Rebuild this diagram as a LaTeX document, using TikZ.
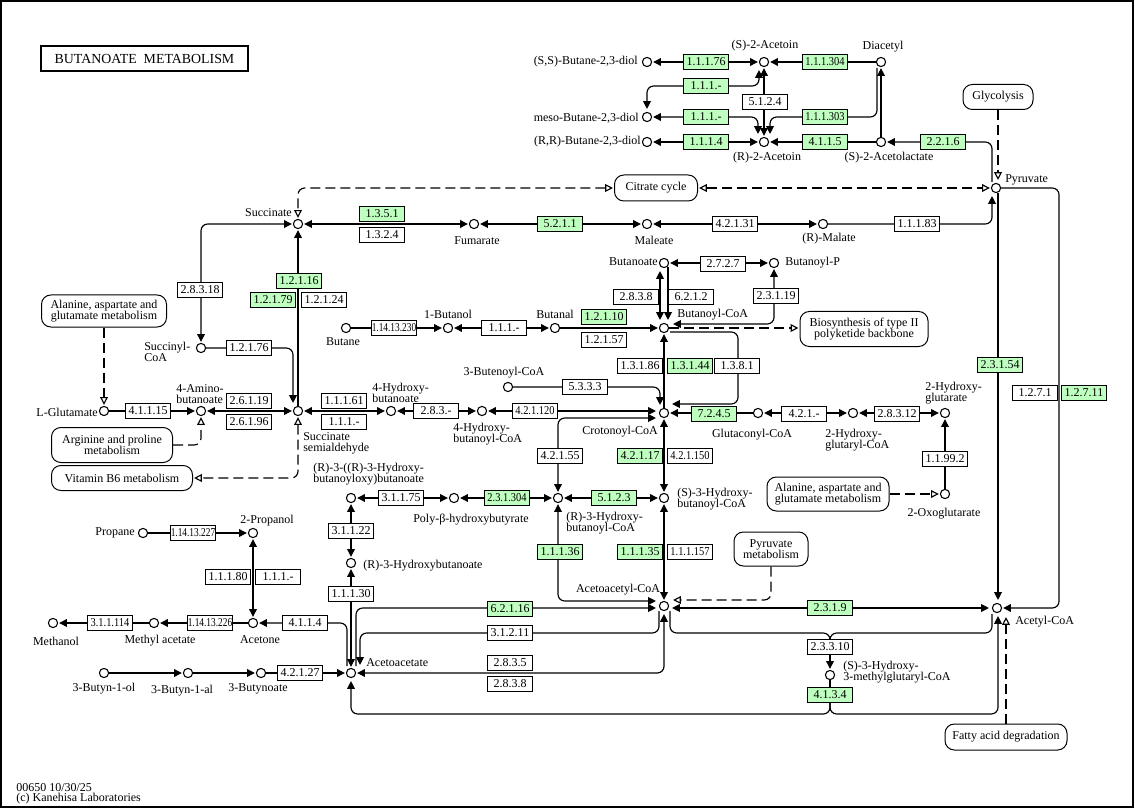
\documentclass[tikz,border=0pt]{standalone}
\usepackage{fontspec}
\usepackage{graphicx}
\setmainfont{Liberation Serif}
\usetikzlibrary{arrows.meta,calc}
\definecolor{kgreen}{HTML}{BFFFBF}
\newcommand{\sqA}[1]{\scalebox{0.87}[1]{#1}}
\newcommand{\sqB}[1]{\scalebox{0.78}[1]{#1}}
\begin{document}
\begin{tikzpicture}[x=0.75pt,y=-0.75pt,
  font=\fontsize{9}{8.4}\selectfont,
  cpd/.style={circle,draw,fill=white,minimum size=6.9pt,inner sep=0pt,line width=0.8pt},
  lab/.style={inner sep=0pt,align=left},
  labc/.style={inner sep=0pt,align=center},
  ec/.style={draw,fill=white,minimum width=33.75pt,minimum height=11.8pt,inner sep=0pt,line width=0.75pt},
  gec/.style={ec,fill=kgreen},
  mapb/.style 2 args={draw,fill=white,rounded corners=7pt,align=center,inner sep=0pt,minimum width=#1*0.75pt,minimum height=#2*0.75pt,line width=0.75pt},
  ln/.style={line width=0.85pt,rounded corners=5pt},
  ar/.style={ln,-{Triangle[length=5.8pt,width=5.8pt]},shorten >=0.8pt},
  bar/.style={ln,{Triangle[length=5.8pt,width=5.8pt]}-{Triangle[length=5.8pt,width=5.8pt]},shorten >=0.8pt,shorten <=0.8pt},
  dl/.style={ln,dash pattern=on 7.5pt off 3.75pt},
  dar/.style={dl,-{Triangle[open,length=5.8pt,width=5.8pt]},shorten >=0.8pt},
  dbar/.style={dl,{Triangle[open,length=5.8pt,width=5.8pt]}-{Triangle[open,length=5.8pt,width=5.8pt]},shorten >=0.8pt,shorten <=0.8pt}
]
\useasboundingbox (0,0) rectangle (1135,809);
\draw[line width=0.8pt] (1,1) rectangle (1133,807);
\node[draw,line width=1.6pt,minimum width=155pt,minimum height=18.5pt,inner sep=0pt,font=\fontsize{10.4}{12}\selectfont] (title) at (144.5,58.5) {BUTANOATE\ \ METABOLISM};

% compounds
\node[cpd] (ssdiol) at (647,62) {};
\node[cpd] (sacet) at (764,62) {};
\node[cpd] (diac) at (881,62) {};
\node[cpd] (mesodiol) at (647,117) {};
\node[cpd] (rrdiol) at (647,142) {};
\node[cpd] (racet) at (764,142) {};
\node[cpd] (aclac) at (881,142) {};
\node[cpd] (pyr) at (996,188) {};
\node[cpd] (succ) at (298,224) {};
\node[cpd] (fum) at (474,224) {};
\node[cpd] (mal) at (647,224) {};
\node[cpd] (rmal) at (823,224) {};
\node[cpd] (buta) at (664,263) {};
\node[cpd] (bup) at (774,263) {};
\node[cpd] (bucoa) at (664,328) {};
\node[cpd] (butanal) at (555,328) {};
\node[cpd] (butanol) at (448,328) {};
\node[cpd] (butane) at (346,328) {};
\node[cpd] (succoa) at (201,348) {};
\node[cpd] (glu) at (104,411) {};
\node[cpd] (gaba) at (201,411) {};
\node[cpd] (ssa) at (298,411) {};
\node[cpd] (hba) at (391,411) {};
\node[cpd] (hbcoa) at (482,411) {};
\node[cpd] (buten) at (508,387) {};
\node[cpd] (crot) at (664,413) {};
\node[cpd] (glut) at (758,413) {};
\node[cpd] (hgcoa) at (853,413) {};
\node[cpd] (hg) at (945,413) {};
\node[cpd] (oxo) at (945,494) {};
\node[cpd] (s3hb) at (664,498) {};
\node[cpd] (r3hb) at (558,498) {};
\node[cpd] (phb) at (454,498) {};
\node[cpd] (rrhb) at (351,498) {};
\node[cpd] (r3hba) at (351,563) {};
\node[cpd] (aacoa) at (664,606) {};
\node[cpd] (acoa) at (997,608) {};
\node[cpd] (aa) at (351,673) {};
\node[cpd] (hmg) at (830,675) {};
\node[cpd] (prop) at (253,533) {};
\node[cpd] (propane) at (143,533) {};
\node[cpd] (acetone) at (253,623) {};
\node[cpd] (meac) at (154,623) {};
\node[cpd] (meoh) at (53,623) {};
\node[cpd] (bol) at (104,673) {};
\node[cpd] (bal) at (188,673) {};
\node[cpd] (bnoate) at (261,673) {};

% map boxes
\node[mapb={70}{25}] (glyc) at (998,97) {Glycolysis};
\node[mapb={83}{26}] (cit) at (656,188) {Citrate cycle};
\node[mapb={128}{35}] (pk) at (864,329) {Biosynthesis of type II\\polyketide backbone};
\node[mapb={125}{32}] (ala1) at (104,311) {Alanine, aspartate and\\glutamate metabolism};
\node[mapb={121}{35}] (arg) at (112,445) {Arginine and proline\\metabolism};
\node[mapb={141}{25}] (vitb6) at (122,478) {Vitamin B6 metabolism};
\node[mapb={122}{34}] (ala2) at (828,494) {Alanine, aspartate and\\glutamate metabolism};
\node[mapb={74}{34}] (pm) at (771,549) {Pyruvate\\metabolism};
\node[mapb={122}{26}] (fad) at (1006,737) {Fatty acid degradation};

% connectors: top
\draw[bar] (ssdiol) -- (sacet);
\draw[ar] (diac) -- (sacet);
\draw[bar] ($(sacet)+(-5,7)$) |- ($(mesodiol)+(0,-31)$) -- ($(mesodiol)+(0,-7)$);
\draw[bar] (sacet) -- (racet);
\draw[bar] (mesodiol) -| ($(racet)+(-6,-7)$);
\draw[ar] ($(diac)+(-4,6)$) |- ($(racet)+(6,-25)$) -- ($(racet)+(6,-7)$);
\draw[bar] (rrdiol) -- (racet);
\draw[ar] (aclac) -- (racet);
\draw[ar] (aclac) -- (diac);
\draw[ar] ($(pyr)+(-4,-6)$) |- (aclac);
\draw[dar] (glyc.south) -- ($(pyr)+(2,-7)$);
\draw[dbar] (cit) -- (pyr);
\draw[dbar] (cit.west) -| (succ);
% succinate row
\draw[bar] (succ) -- (fum);
\draw[bar] (fum) -- (mal);
\draw[bar] (mal) -- (rmal);
\draw[ar] (rmal) -| ($(pyr)+(-4,7)$);
\draw[bar] (succoa) |- (succ);
\draw[ar] (ssa) -- (succ);
\draw[ar] (succoa) -| ($(ssa)+(-5,-7)$);
% glutamate row
\draw[ar] (glu) -- (gaba);
\draw[bar] (gaba) -- (ssa);
\draw[dar] (ala1.south) -- (glu);
\draw[dar] (arg.east) -| (gaba);
\draw[dbar] (ssa) |- (vitb6.east);
\draw[bar] (ssa) -- (hba);
\draw[bar] (hba) -- (hbcoa);
\draw[bar] (hbcoa) -- ($(crot)+(-7,-2)$);
% butanoyl-CoA area
\draw[ar] (buten) -| ($(crot)+(-4,-7)$);
\draw[ar] (crot) -- (bucoa);
\draw[ar] ($(bucoa)+(6,4)$) -| ($(crot)+(74,-9)$) -- ($(crot)+(7,-9)$);
\draw[dar] (bucoa) -- (bucoa -| pk.west);
\draw[bar] (bup) |- ($(bucoa)+(8,-4)$);
\draw[bar] (buta) -- (bup);
\draw[bar] ($(buta)+(-4,7)$) -- ($(bucoa)+(-4,-7)$);
\draw[ar] ($(buta)+(4,4)$) -- ($(bucoa)+(4,-7)$);
\draw[ar] (butanal) -- (bucoa);
\draw[bar] (butanol) -- (butanal);
\draw[ar] (butane) -- (butanol);
% glutaconyl row
\draw[ar] (glut) -- (crot);
\draw[bar] (hgcoa) -- (glut);
\draw[bar] (hgcoa) -- (hg);
\draw[ar] (oxo) -- (hg);
\draw[dar] (ala2.east) -- (oxo);
% hydroxybutanoyl
\draw[bar] (crot) -- (s3hb);
\draw[bar] (r3hb) |- ($(crot)+(-7,5)$);
\draw[bar] (r3hb) -- (s3hb);
\draw[bar] (phb) -- (r3hb);
\draw[bar] (rrhb) -- (phb);
\draw[bar] (rrhb) -- (r3hba);
\draw[bar] (r3hba) -- (aa);
\draw[bar] (r3hb) |- ($(aacoa)+(-7,-5)$);
\draw[bar] (s3hb) -- (aacoa);
\draw[dar] (pm.south) |- ($(aacoa)+(8,-6)$);
\draw[bar] ($(aacoa)+(7,2)$) -- ($(acoa)+(-7,0)$);
% acetoacetate
\draw[ar] ($(aa)+(5,-7)$) |- ($(aacoa)+(-7,2)$);
\draw[ar] ($(aacoa)+(-5,5)$) |- ($(aa)+(9,-40)$) -- ($(aa)+(9,-7)$);
\draw[bar] (aa) -| ($(aacoa)+(0,7)$);
\draw[ar] ($(aa)+(-4,-7)$) |- (acetone);
\draw[ar] (propane) -- (prop);
\draw[bar] (prop) -- (acetone);
\draw[ar] (acetone) -- (meac);
\draw[ar] (meac) -- (meoh);
\draw[ar] (bol) -- (bal);
\draw[ar] (bal) -- (bnoate);
\draw[ar] (bnoate) -- (aa);
% HMG-CoA
\draw[ln] ($(aacoa)+(6,5)$) |- ($(hmg)+(0,-42)$) -- ($(hmg)+(0,-36)$);
\draw[ln] ($(acoa)+(-5,6)$) |- ($(hmg)+(0,-42)$) -- ($(hmg)+(0,-36)$);
\draw[ar] ($(hmg)+(0,-36)$) -- (hmg);
\draw[ln] (hmg) -- ($(hmg)+(0,28)$);
\draw[ar] ($(hmg)+(0,28)$) |- ($(aa)+(0,41)$) -- ($(aa)+(0,7)$);
\draw[ar] ($(hmg)+(0,28)$) |- ($(acoa)+(1,106)$) -- ($(acoa)+(1,7)$);
\draw[dar] (fad.north) -- ($(acoa)+(9,8)$);
\draw[ar] ($(pyr)+(2,5)$) -- ($(acoa)+(1,-7)$);
\draw[ar] (pyr) -| ($(acoa)+(62,0)$) -- (acoa);

% enzymes
\node[gec] (e1) at (706,62) {1.1.1.76};
\node[gec] (e2) at (825,62) {\sqA{1.1.1.304}};
\node[gec] (e3) at (706,86) {1.1.1.-};
\node[ec] (e4) at (765,102) {5.1.2.4};
\node[gec] (e5) at (706,117) {1.1.1.-};
\node[gec] (e6) at (825,117) {\sqA{1.1.1.303}};
\node[gec] (e7) at (706,142) {1.1.1.4};
\node[gec] (e8) at (825,142) {4.1.1.5};
\node[gec] (e9) at (943,142) {2.2.1.6};
\node[gec] (e10) at (382,214) {1.3.5.1};
\node[ec] (e11) at (382,235) {1.3.2.4};
\node[gec] (e12) at (560,224) {5.2.1.1};
\node[ec] (e13) at (735,224) {4.2.1.31};
\node[ec] (e14) at (917,224) {1.1.1.83};
\node[ec] (e15) at (723,264) {2.7.2.7};
\node[ec] (e16) at (636,297) {2.8.3.8};
\node[ec] (e17) at (691,297) {6.2.1.2};
\node[ec] (e18) at (776,296) {2.3.1.19};
\node[ec] (e19) at (200,290) {2.8.3.18};
\node[gec] (e20) at (299,281) {1.2.1.16};
\node[gec] (e21) at (273,300) {1.2.1.79};
\node[ec] (e22) at (324,300) {1.2.1.24};
\node[ec] (e23) at (394,328) {\sqB{1.14.13.230}};
\node[ec] (e24) at (504,328) {1.1.1.-};
\node[gec] (e25) at (604,317) {1.2.1.10};
\node[ec] (e26) at (604,340) {1.2.1.57};
\node[ec] (e27) at (249,348) {1.2.1.76};
\node[ec] (e28) at (640,366) {1.3.1.86};
\node[gec] (e29) at (690,366) {1.3.1.44};
\node[ec] (e30) at (737,366) {1.3.8.1};
\node[gec] (e31) at (1000,365) {2.3.1.54};
\node[ec] (e32) at (1035,393) {1.2.7.1};
\node[gec] (e33) at (1084,393) {1.2.7.11};
\node[ec] (e34) at (148,411) {4.1.1.15};
\node[ec] (e35) at (249,401) {2.6.1.19};
\node[ec] (e36) at (249,422) {2.6.1.96};
\node[ec] (e37) at (344,401) {1.1.1.61};
\node[ec] (e38) at (344,422) {1.1.1.-};
\node[ec] (e39) at (436,411) {2.8.3.-};
\node[ec] (e40) at (535,411) {\sqA{4.2.1.120}};
\node[ec] (e41) at (585,387) {5.3.3.3};
\node[gec] (e42) at (714,414) {7.2.4.5};
\node[ec] (e43) at (804,414) {4.2.1.-};
\node[ec] (e44) at (897,414) {2.8.3.12};
\node[ec] (e45) at (945,459) {1.1.99.2};
\node[ec] (e46) at (560,456) {4.2.1.55};
\node[gec] (e47) at (640,456) {4.2.1.17};
\node[ec] (e48) at (690,456) {\sqA{4.2.1.150}};
\node[gec] (e49) at (507,498) {\sqA{2.3.1.304}};
\node[gec] (e50) at (614,498) {5.1.2.3};
\node[ec] (e51) at (401,498) {3.1.1.75};
\node[ec] (e52) at (351,531) {3.1.1.22};
\node[ec] (e53) at (351,594) {1.1.1.30};
\node[gec] (e54) at (560,552) {1.1.1.36};
\node[gec] (e55) at (640,552) {1.1.1.35};
\node[ec] (e56) at (690,552) {\sqA{1.1.1.157}};
\node[gec] (e57) at (510,609) {6.2.1.16};
\node[ec] (e58) at (510,633) {3.1.2.11};
\node[ec] (e59) at (510,663) {2.8.3.5};
\node[ec] (e60) at (510,684) {2.8.3.8};
\node[gec] (e61) at (830,608) {2.3.1.9};
\node[ec] (e62) at (830,647) {2.3.3.10};
\node[gec] (e63) at (830,695) {4.1.3.4};
\node[ec] (e64) at (193,533) {\sqB{1.14.13.227}};
\node[ec] (e65) at (228,577) {1.1.1.80};
\node[ec] (e66) at (278,577) {1.1.1.-};
\node[ec] (e67) at (305,623) {4.1.1.4};
\node[ec] (e68) at (210,623) {\sqB{1.14.13.226}};
\node[ec] (e69) at (110,623) {\sqA{3.1.1.114}};
\node[ec] (e70) at (300,673) {4.2.1.27};

% labels
\node[labc] (l1) at (765,46) {(S)-2-Acetoin};
\node[labc] (l2) at (883,47) {Diacetyl};
\node[lab,anchor=east] (l3) at (638,62) {(S,S)-Butane-2,3-diol};
\node[lab,anchor=east] (l4) at (639,118) {meso-Butane-2,3-diol};
\node[lab,anchor=east] (l5) at (641,142) {(R,R)-Butane-2,3-diol};
\node[labc] (l6) at (767,158) {(R)-2-Acetoin};
\node[labc] (l7) at (889,158) {(S)-2-Acetolactate};
\node[lab,anchor=west] (l8) at (1005,180) {Pyruvate};
\node[lab,anchor=east] (l9) at (292,213) {Succinate};
\node[labc] (l10) at (477,241) {Fumarate};
\node[labc] (l11) at (654,240) {Maleate};
\node[labc] (l12) at (829,239) {(R)-Malate};
\node[lab,anchor=east] (l13) at (658,262) {Butanoate};
\node[lab,anchor=west] (l14) at (785,263) {Butanoyl-P};
\node[lab,anchor=west] (l15) at (677,315) {Butanoyl-CoA};
\node[labc] (l16) at (555,314) {Butanal};
\node[labc] (l17) at (448,314) {1-Butanol};
\node[labc] (l18) at (343,342) {Butane};
\node[lab,anchor=west] (l19) at (144,352) {Succinyl-\\CoA};
\node[lab,anchor=east] (l20) at (98,412) {L-Glutamate};
\node[lab,anchor=west] (l21) at (176,394) {4-Amino-\\butanoate};
\node[lab,anchor=west] (l22) at (303,443) {Succinate\\semialdehyde};
\node[lab,anchor=west] (l23) at (372,393) {4-Hydroxy-\\butanoate};
\node[lab,anchor=west] (l24) at (453,434) {4-Hydroxy-\\butanoyl-CoA};
\node[labc] (l25) at (504,373) {3-Butenoyl-CoA};
\node[labc] (l26) at (620,432) {Crotonoyl-CoA};
\node[labc] (l27) at (752,435) {Glutaconyl-CoA};
\node[lab,anchor=west] (l28) at (825,440) {2-Hydroxy-\\glutaryl-CoA};
\node[lab,anchor=west] (l29) at (925,393) {2-Hydroxy-\\glutarate};
\node[labc] (l30) at (944,514) {2-Oxoglutarate};
\node[lab,anchor=west] (l31) at (677,499) {(S)-3-Hydroxy-\\butanoyl-CoA};
\node[lab,anchor=west] (l32) at (566,523) {(R)-3-Hydroxy-\\butanoyl-CoA};
\node[labc] (l33) at (471,520) {Poly-β-hydroxybutyrate};
\node[lab,anchor=west] (l34) at (313,474) {(R)-3-((R)-3-Hydroxy-\\butanoyloxy)butanoate};
\node[lab,anchor=west] (l35) at (363,566) {(R)-3-Hydroxybutanoate};
\node[labc] (l36) at (618,590) {Acetoacetyl-CoA};
\node[lab,anchor=west] (l37) at (366,663) {Acetoacetate};
\node[lab,anchor=west] (l38) at (1015,622) {Acetyl-CoA};
\node[lab,anchor=west] (l39) at (843,672) {(S)-3-Hydroxy-\\3-methylglutaryl-CoA};
\node[labc] (l40) at (267,521) {2-Propanol};
\node[lab,anchor=east] (l41) at (135,533) {Propane};
\node[labc] (l42) at (260,640) {Acetone};
\node[labc] (l43) at (160,641) {Methyl acetate};
\node[labc] (l44) at (56,641) {Methanol};
\node[labc] (l45) at (104,689) {3-Butyn-1-ol};
\node[labc] (l46) at (182,691) {3-Butyn-1-al};
\node[labc] (l47) at (258,689) {3-Butynoate};
\node[lab,anchor=west] (f1) at (16,788) {00650 10/30/25};
\node[lab,anchor=west] (f2) at (16,799) {(c) Kanehisa Laboratories};
\end{tikzpicture}
\end{document}
